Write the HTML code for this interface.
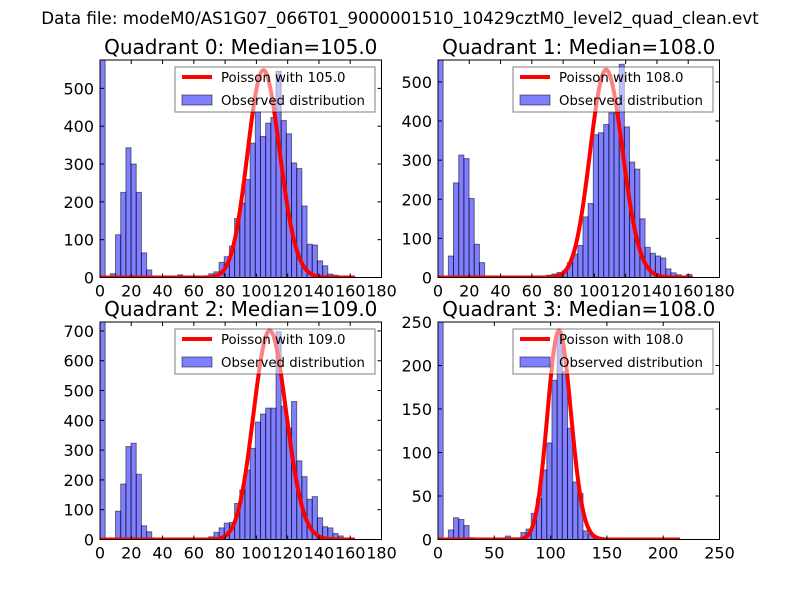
<!DOCTYPE html>
<html><head><meta charset="utf-8"><style>
body{margin:0;background:#fff;}
svg text{font-family:"DejaVu Sans","Liberation Sans",sans-serif;}
</style></head><body>
<svg id="fig" width="800" height="600" viewBox="0 0 800 600" xmlns="http://www.w3.org/2000/svg">
<rect width="800" height="600" fill="#fff"/>
<text x="400" y="24" font-size="16.7" text-anchor="middle">Data file: modeM0/AS1G07_066T01_9000001510_10429cztM0_level2_quad_clean.evt</text>
</svg>
<script>
const titles = ["Quadrant 0: Median=105.0","Quadrant 1: Median=108.0","Quadrant 2: Median=109.0","Quadrant 3: Median=108.0"];
const lambdas = [105,108,109,108];
const peaks = [548,531,701,240];
const curveMax = [163,163,163,215];
const binWidths = [3.31,3.31,3.31,4.6];
const xMaxes = [180,180,180,250];
const yMaxes = [575,556,730,250];
const xTicks0 = [0,20,40,60,80,100,120,140,160,180];
const xTicks3 = [0,50,100,150,200,250];
const yTicks0 = [0,100,200,300,400,500];
const yTicks2 = [0,100,200,300,400,500,600,700];
const yTicks3 = [0,50,100,150,200,250];
const counts0 = [1500,0,10,113,225,343,300,225,65,20,0,0,0,0,0,7,0,0,0,0,3,10,15,40,55,83,156,197,259,355,438,373,408,423,545,415,380,303,288,189,88,86,44,31,9,6,0,0,0,0];
const counts1 = [1500,0,55,242,313,304,202,85,38,4,0,0,0,0,0,0,0,0,2,3,4,6,9,13,17,38,60,82,155,189,365,370,391,421,421,545,385,295,277,150,77,62,55,50,22,12,7,3,8,0];
const counts2 = [1500,0,0,95,186,312,323,219,46,26,5,0,0,0,0,0,0,0,0,0,0,9,24,39,55,57,121,166,233,306,394,421,441,441,697,447,374,463,264,211,135,144,73,43,39,20,12,3,0,0];
const counts3 = [1000,0,11,25,23,16,2,0,0,0,0,0,0,4,2,0,8,12,30,47,80,111,183,237,193,128,66,53,10,6,2,0,0,0,0,0,0,0,0,0,0,0,0,0,0,0,0];
const allCounts = [counts0,counts1,counts2,counts3];
const allXTicks = [xTicks0,xTicks0,xTicks0,xTicks3];
const allYTicks = [yTicks0,yTicks0,yTicks2,yTicks3];

const NS="http://www.w3.org/2000/svg";
const svg=document.getElementById('fig');
function mk(tag,attrs,parent){const e=document.createElementNS(NS,tag);for(const k in attrs)e.setAttribute(k,attrs[k]);(parent||svg).appendChild(e);return e;}
function lgamma(n){let s=0;for(let i=2;i<=n;i++)s+=Math.log(i);return s;}
function pmf(k,l){return Math.exp(k*Math.log(l)-l-lgamma(k));}

const boxes=[[100,60],[438,60],[100,322],[438,322]];
const W=281.5,H=217.5;
for(let q=0;q<4;q++){
  const [L,T]=boxes[q];
  const xs=v=>L+v/xMaxes[q]*W;
  const ys=v=>T+H-v/yMaxes[q]*H;
  const g=mk('g',{});
  
  
  const cp=mk('clipPath',{id:'cp'+q},g);
  mk('rect',{x:L,y:T,width:W,height:H},cp);
  const bars=mk('g',{'clip-path':'url(#cp'+q+')'},g);
  allCounts[q].forEach((c,i)=>{
    if(c<=0)return;
    const x0=xs(i*binWidths[q]),x1=xs((i+1)*binWidths[q]);
    const r=mk('rect',{x:x0,y:ys(c),width:x1-x0,height:ys(0)-ys(c),fill:'rgba(0,0,255,0.5)',stroke:'rgba(0,0,0,0.5)','stroke-width':1},bars);
    
    
  });
  let mode=Math.floor(lambdas[q]);
  const scale=peaks[q]/pmf(mode,lambdas[q]);
  let d='';
  for(let k=0;k<=curveMax[q];k++){d+=(k?'L':'M')+xs(k).toFixed(2)+','+ys(scale*pmf(k,lambdas[q])).toFixed(2);}
  const pl=mk('path',{d:d,fill:'none',stroke:'#ff0000','stroke-width':4,'stroke-linejoin':'round','clip-path':'url(#cp'+q+')'},g);
  
  
  mk('rect',{x:L,y:T,width:W,height:H,fill:'none',stroke:'#000','stroke-width':1},g);
  allXTicks[q].forEach(v=>{
    const x=xs(v);
    mk('line',{x1:x,y1:T+H,x2:x,y2:T+H-4,stroke:'#000'},g);
    mk('line',{x1:x,y1:T,x2:x,y2:T+4,stroke:'#000'},g);
    const t=mk('text',{x:x,y:T+H+19,'font-size':16,'text-anchor':'middle'},g);
    t.textContent=v;
    
    
  });
  allYTicks[q].forEach(v=>{
    const y=ys(v);
    mk('line',{x1:L,y1:y,x2:L+4,y2:y,stroke:'#000'},g);
    mk('line',{x1:L+W,y1:y,x2:L+W-4,y2:y,stroke:'#000'},g);
    const t=mk('text',{x:L-6,y:y+6,'font-size':16,'text-anchor':'end'},g);
    t.textContent=v;
    
    
  });
  const tt=mk('text',{x:L+W/2,y:T-6,'font-size':20,'text-anchor':'middle'},g);
  tt.textContent=titles[q];
  
  
  const lg=mk('g',{},g);
  
  
  mk('rect',{x:L+75,y:T+7,width:200,height:45,fill:'rgba(255,255,255,0.5)',stroke:'rgba(0,0,0,0.5)'},lg);
  mk('line',{x1:L+82,y1:T+17,x2:L+112,y2:T+17,stroke:'#ff0000','stroke-width':4},lg);
  const t1=mk('text',{x:L+121,y:T+22,'font-size':13.3},lg);
  t1.textContent='Poisson with '+lambdas[q].toFixed(1);
  
  
  mk('rect',{x:L+82,y:T+35,width:30,height:10,fill:'rgba(0,0,255,0.5)',stroke:'rgba(0,0,0,0.5)'},lg);
  const t2=mk('text',{x:L+121,y:T+45,'font-size':13.3},lg);
  t2.textContent='Observed distribution';
  
  
}
</script>
</body></html>
